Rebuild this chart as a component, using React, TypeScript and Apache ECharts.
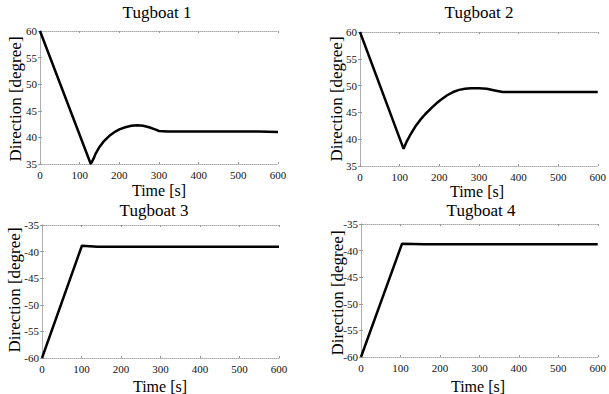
import React, { useEffect, useRef } from "react";
import * as echarts from "echarts";

const titles = ["Tugboat 1", "Tugboat 2", "Tugboat 3", "Tugboat 4"];
const xName = "Time [s]";
const yName = "Direction [degree]";

const t1 = [0, 128, 135, 140, 150, 160, 175, 190, 200, 215, 230, 245, 260, 275, 290, 300, 320, 550, 600];
const v1 = [60, 35, 36, 36.9, 38.2, 39.2, 40.3, 41.1, 41.5, 41.9, 42.2, 42.3, 42.2, 41.9, 41.5, 41.2, 41.1, 41.1, 41];

const t2 = [0, 110, 118, 130, 140, 152, 165, 180, 193, 205, 220, 235, 250, 265, 280, 300, 320, 340, 360, 600];
const v2 = [60, 38.2, 39.6, 41.2, 42.4, 43.6, 44.7, 45.8, 46.7, 47.4, 48.2, 48.8, 49.2, 49.4, 49.5, 49.5, 49.4, 49.1, 48.8, 48.8];

const t3 = [0, 101, 140, 600];
const v3 = [-60, -38.9, -39.1, -39.1];

const t4 = [0, 104, 160, 600];
const v4 = [-60, -38.7, -38.8, -38.8];

const yRanges = [
  [35, 60],
  [35, 60],
  [-60, -35],
  [-60, -35],
];

const grids = [
  { left: 40, top: 31, width: 238, height: 133 },
  { left: 360, top: 32, width: 239, height: 134 },
  { left: 42, top: 225, width: 237, height: 133 },
  { left: 361, top: 224, width: 239, height: 133 },
];

const titlePos = [
  { left: 157, top: 4 },
  { left: 479, top: 4 },
  { left: 154, top: 202 },
  { left: 481, top: 202 },
];

const xNamePos = [
  [159, 190],
  [477, 191],
  [160, 386],
  [478, 386],
];
const yNamePos = [
  [15, 99],
  [336, 99],
  [14, 290],
  [337, 293],
];

const FONT = "Liberation Serif";

export default function App() {
  const ref = useRef<HTMLDivElement>(null);
  useEffect(() => {
    if (!ref.current) return;
    const chart = echarts.init(ref.current, undefined, { renderer: "svg" });
    const series = [
      [t1, v1],
      [t2, v2],
      [t3, v3],
      [t4, v4],
    ];
    const frameLine = { show: true, lineStyle: { color: "#aaa", width: 1, type: "dotted" as const } };
    const tick = { show: true, inside: true, length: 2, lineStyle: { color: "#999" } };
    const xAxis: any[] = [];
    const yAxis: any[] = [];
    grids.forEach((_, i) => {
      xAxis.push({
        type: "value",
        gridIndex: i,
        min: 0,
        max: 600,
        interval: 100,
        axisLine: frameLine,
        axisTick: tick,
        axisLabel: { fontFamily: FONT, fontSize: 11, color: "#111", margin: 5 },
        splitLine: { show: false },
      });
      xAxis.push({
        type: "value",
        gridIndex: i,
        position: "top",
        min: 0,
        max: 600,
        interval: 100,
        axisLine: frameLine,
        axisTick: tick,
        axisLabel: { show: false },
        splitLine: { show: false },
      });
      yAxis.push({
        type: "value",
        gridIndex: i,
        min: yRanges[i][0],
        max: yRanges[i][1],
        interval: 5,
        axisLine: frameLine,
        axisTick: tick,
        axisLabel: { fontFamily: FONT, fontSize: 11, color: "#111", margin: 3 },
        splitLine: { show: false },
      });
      yAxis.push({
        type: "value",
        gridIndex: i,
        position: "right",
        min: yRanges[i][0],
        max: yRanges[i][1],
        interval: 5,
        axisLine: frameLine,
        axisTick: tick,
        axisLabel: { show: false },
        splitLine: { show: false },
      });
    });
    const font = `16px "${FONT}"`;
    const graphic: any[] = [];
    xNamePos.forEach(([x, y]) => {
      graphic.push({
        type: "text",
        x,
        y,
        style: { text: xName, font, fill: "#000", align: "center", verticalAlign: "middle" },
      });
    });
    yNamePos.forEach(([x, y]) => {
      graphic.push({
        type: "text",
        x,
        y,
        rotation: Math.PI / 2,
        style: { text: yName, font: `17px "${FONT}"`, fill: "#000", align: "center", verticalAlign: "middle" },
      });
    });
    chart.setOption({
      animation: false,
      backgroundColor: "#fff",
      title: titles.map((t, i) => ({
        text: t,
        left: titlePos[i].left,
        top: titlePos[i].top,
        textAlign: "center",
        padding: 0,
        textStyle: { fontFamily: FONT, fontSize: 17, fontWeight: "normal", color: "#000" },
      })),
      grid: grids,
      xAxis,
      yAxis,
      graphic,
      series: series.map(([t, v], i) => ({
        type: "line",
        xAxisIndex: i * 2,
        yAxisIndex: i * 2,
        data: t.map((x, k) => [x, v[k]]),
        showSymbol: false,
        lineStyle: { color: "#000", width: 2.5 },
      })),
    });
    return () => chart.dispose();
  }, []);
  return (
    <div
      ref={ref}
      style={{ width: 609, height: 394, position: "fixed", left: 0, top: 0, background: "#fff" }}
    />
  );
}
